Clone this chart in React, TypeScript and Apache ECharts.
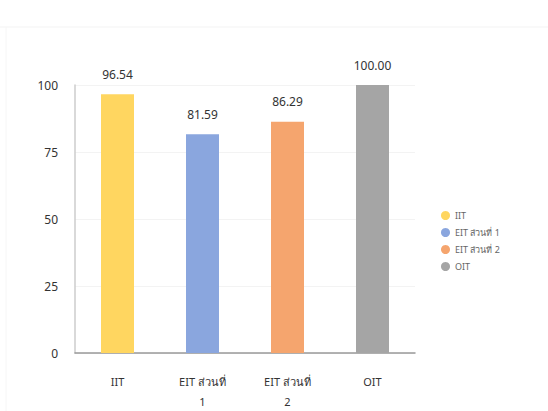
import React, { useEffect, useRef } from "react";
import * as echarts from "echarts";

const categories = ["IIT", "EIT ส่วนที่\n1", "EIT ส่วนที่\n2", "OIT"];
const legendNames = ["IIT", "EIT ส่วนที่ 1", "EIT ส่วนที่ 2", "OIT"];
const values = [96.54, 81.59, 86.29, 100.0];
const colors = ["#FFD660", "#8AA6DE", "#F5A56E", "#A5A5A5"];
const yTicks = [0, 25, 50, 75, 100];

export default function App() {
  const ref = useRef<HTMLDivElement>(null);
  useEffect(() => {
    document.body.style.margin = "0";
    const chart = echarts.init(ref.current!, null, { renderer: "svg" });
    const font = "'Noto Sans', 'DejaVu Sans', sans-serif";
    const series = legendNames.map((name, i) => ({
      name,
      type: "bar",
      stack: "all",
      barWidth: 33,
      itemStyle: { color: colors[i] },
      label: {
        show: true,
        position: "top",
        distance: 14,
        color: "#333",
        fontSize: 12,
        fontFamily: font,
        formatter: (p: any) => Number(p.value).toFixed(2),
      },
      data: values.map((v, j) => (j === i ? v : "-")),
    }));
    chart.setOption({
      animation: false,
      backgroundColor: "#fff",
      textStyle: { fontFamily: font },
      grid: { left: 75, right: 133, top: 85, bottom: 53 },
      graphic: [
        { type: "line", shape: { x1: 0, y1: 27, x2: 548, y2: 27 }, style: { stroke: "#f3f3f3", lineWidth: 1 } },
        { type: "line", shape: { x1: 6, y1: 27, x2: 6, y2: 411 }, style: { stroke: "#f6f6f6", lineWidth: 1 } },
      ],
      legend: {
        orient: "vertical",
        left: 436,
        top: 206,
        icon: "circle",
        itemWidth: 9,
        itemHeight: 9,
        itemGap: 8,
        textStyle: { color: "#666", fontSize: 9, fontFamily: font },
        data: legendNames,
      },
      xAxis: {
        type: "category",
        data: categories,
        axisLine: { lineStyle: { color: "#999", width: 1.5 } },
        axisTick: { show: false },
        axisLabel: { color: "#333", fontSize: 11, margin: 18, lineHeight: 20, fontFamily: font },
      },
      yAxis: {
        type: "value",
        min: yTicks[0],
        max: yTicks[yTicks.length - 1],
        interval: 25,
        axisLine: { show: true, lineStyle: { color: "#ccc", width: 1.5 } },
        axisTick: { show: false },
        splitLine: { lineStyle: { color: "#f3f3f3" } },
        axisLabel: { color: "#333", fontSize: 12, margin: 17, fontFamily: font },
      },
      series,
    });
    return () => chart.dispose();
  }, []);
  return <div ref={ref} style={{ width: 548, height: 411 }} />;
}
